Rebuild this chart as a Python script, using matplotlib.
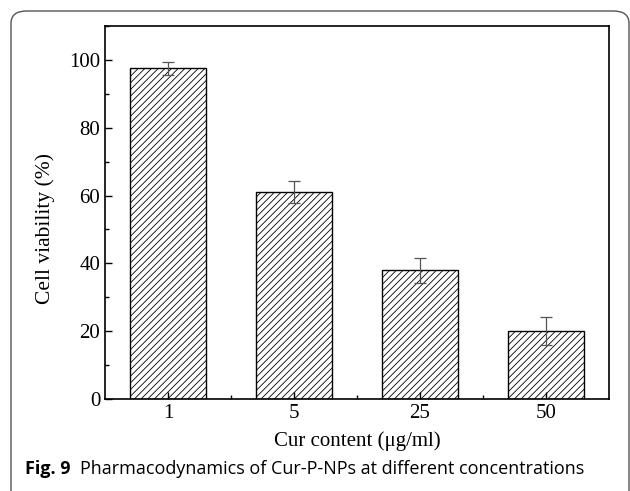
import numpy as np
import matplotlib.pyplot as plt
from matplotlib.patches import FancyBboxPatch
from matplotlib.ticker import MultipleLocator, FixedLocator

# Viabilidad celular frente a la concentración de Cur
concentraciones = ["1", "5", "25", "50"]
viabilidad = [97.5, 61.0, 37.9, 20.1]
error = [2.0, 3.3, 3.7, 4.1]

plt.rcParams['hatch.linewidth'] = 0.6
plt.rcParams['hatch.color'] = '#555555'

fig = plt.figure(figsize=(6.3, 4.91), dpi=100)
ax = fig.add_axes([0.1667, 0.1874, 0.8, 0.7596])

x = np.arange(len(concentraciones))
ax.bar(x, viabilidad, width=0.6, color='white', edgecolor='black',
       linewidth=1.0, hatch='/////')
ax.errorbar(x, viabilidad, yerr=error, fmt='none', ecolor='#555555',
            elinewidth=0.9, capsize=4, capthick=0.9)

ax.set_xlim(-0.5, 3.5)
ax.set_ylim(0, 110)
ax.set_xticks(x)
ax.set_xticklabels(concentraciones)
ax.xaxis.set_minor_locator(FixedLocator([0.5, 1.5, 2.5]))
ax.yaxis.set_major_locator(MultipleLocator(20))
ax.yaxis.set_minor_locator(MultipleLocator(10))
ax.tick_params(which='both', direction='in', width=1.0, labelsize=15)
ax.tick_params(which='major', length=5)
ax.tick_params(which='minor', length=3)
for lab in ax.get_xticklabels() + ax.get_yticklabels():
    lab.set_family('Liberation Serif')
for s in ax.spines.values():
    s.set_linewidth(1.2)

ax.set_xlabel("Cur content (\u03bcg/ml)", family='Liberation Serif',
              fontsize=15, labelpad=6)
ax.set_ylabel("Cell viability (%)", family='Liberation Serif', fontsize=15.5)
ax.yaxis.set_label_coords(-0.1, 0.458)

# Marco redondeado del pie de figura
marco = FancyBboxPatch((11 / 630, -0.2), 1 - 12 / 630, 1.2 - 11 / 491,
                       boxstyle="round,pad=0,rounding_size=0.025",
                       transform=fig.transFigure, fill=False,
                       edgecolor='#555555', linewidth=1.0, clip_on=False)
fig.patches.append(marco)

fig.text(25 / 630, 1 - 469 / 491, "Fig. 9", family='Open Sans',
         fontweight='bold', fontsize=13, va='center', ha='left')
fig.text(80 / 630, 1 - 469 / 491,
         "Pharmacodynamics of Cur-P-NPs at different concentrations",
         family='Open Sans', fontsize=13, va='center', ha='left')

plt.savefig("out.png", dpi=100)
